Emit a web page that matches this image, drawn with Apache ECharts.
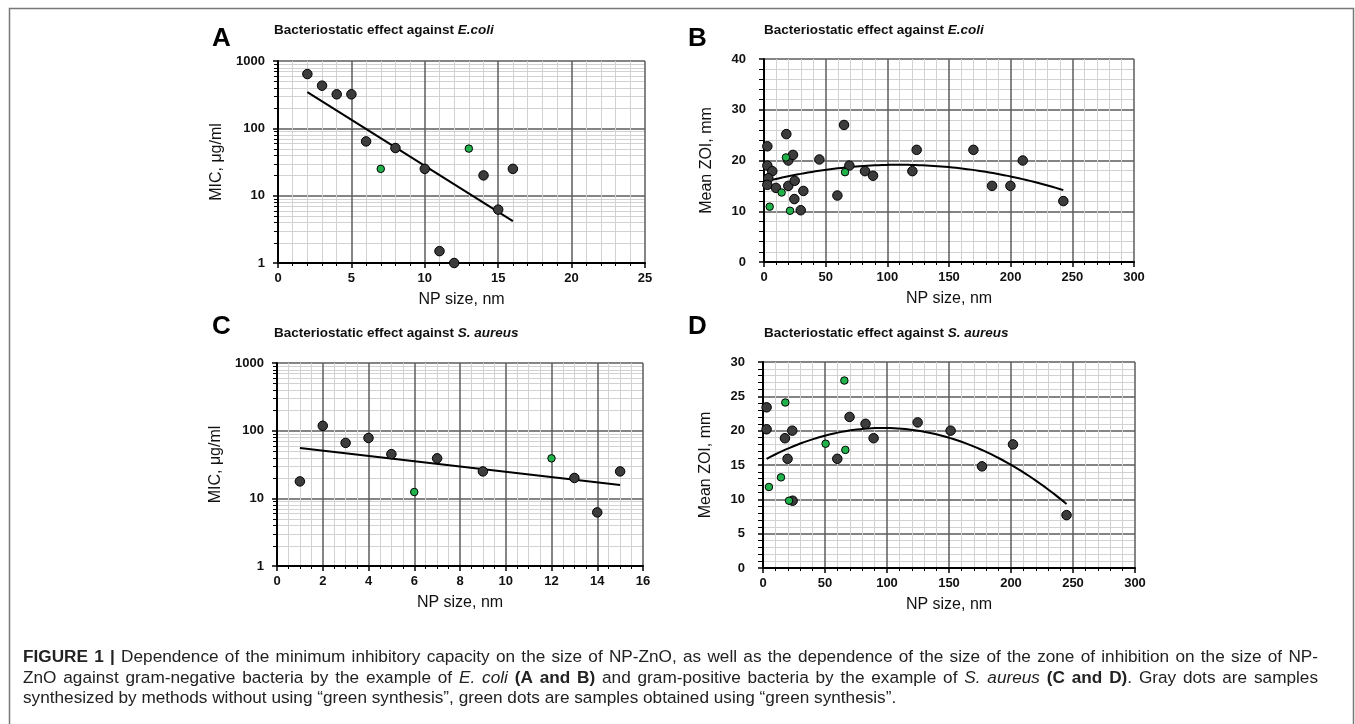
<!DOCTYPE html>
<html><head><meta charset="utf-8">
<script src="https://cdn.jsdelivr.net/npm/echarts@6/dist/echarts.min.js"></script>
<style>html,body{margin:0;padding:0;background:#fff}#c{width:1355px;height:724px}</style>
</head><body><div id="c"></div>
<script>
// ---------- DATA ----------
// Panel A: MIC vs NP size, E. coli  [size nm, MIC ug/ml]
const aGray  = [[2,640],[3,430],[4,320],[5,320],[6,64],[8,51],[10,25],[11,1.5],[12,1],[14,20],[15,6.2],[16,25]];
const aGreen = [[7,25],[13,50]];
// Panel B: mean ZOI vs NP size, E. coli  [size nm, ZOI mm]
const bGray  = [[2.7,22.8],[18.1,25.2],[64.9,27.0],[19.7,20.0],[23.5,21.1],[44.9,20.2],[2.7,19.0],[6.7,17.9],
                [3.5,16.5],[2.7,15.2],[9.7,14.6],[19.7,15.0],[24.9,16.0],[31.9,14.0],[24.6,12.4],[29.8,10.2],
                [59.5,13.1],[69.2,19.0],[81.9,17.9],[88.4,17.0],[120.3,17.9],[123.8,22.1],[169.8,22.1],
                [184.9,15.0],[199.8,15.0],[209.8,20.0],[242.7,12.0]];
const bGreen = [[17.8,20.6],[14.3,13.7],[4.6,10.9],[21.1,10.1],[65.7,17.7]];
// Panel C: MIC vs NP size, S. aureus
const cGray  = [[1,17.8],[2,118],[3,66],[4,78],[5,45],[7,39],[9,25],[13,20],[14,6.2],[15,25]];
const cGreen = [[6,12.4],[12,39]];
// Panel D: mean ZOI vs NP size, S. aureus
const dGray  = [[2.9,23.4],[2.9,20.2],[23.6,20.0],[17.7,18.9],[69.8,22.0],[82.7,21.0],[89.2,18.9],[59.9,15.9],
                [19.8,15.9],[23.9,9.8],[124.7,21.2],[151.3,20.0],[176.6,14.8],[201.6,18.0],[244.8,7.7]];
const dGreen = [[65.6,27.3],[18.0,24.1],[50.5,18.1],[66.4,17.2],[14.5,13.2],[4.8,11.8],[21.0,9.8]];

// Text
const panelLetters = ['A','B','C','D'];
const panelTitles = [['Bacteriostatic effect against ','E.coli'],['Bacteriostatic effect against ','E.coli'],
                     ['Bacteriostatic effect against ','S. aureus'],['Bacteriostatic effect against ','S. aureus']];
const xName = 'NP size, nm';
const yNames = ['MIC, μg/ml','Mean ZOI, mm','MIC, μg/ml','Mean ZOI, mm'];
const logMinorMultipliers = [2,3,4,5,6,7,8,9];
const logDecades = [1,10,100];
// caption: [style, text]  r = regular, b = bold, i = italic
const captionLine1 = [['b','FIGURE 1 |'],['r','Dependence of the minimum inhibitory capacity on the size of NP-ZnO, as well as the dependence of the size of the zone of inhibition on the size of NP-']];
const captionLine2 = [['r','ZnO against gram-negative bacteria by the example of'],['i','E. coli'],['b','(A and B)'],
                      ['r','and gram-positive bacteria by the example of'],['i','S. aureus'],['b','(C and D)'],['r','. Gray dots are samples']];
const captionLine3 = [['r','synthesized by methods without using “green synthesis”, green dots are samples obtained using “green synthesis”.']];

// ---------- helpers ----------
const font = "'Liberation Sans', Arial, Helvetica, sans-serif";
const all = (a,b) => a.concat(b);

function logLinearFit(pts){ // least squares: log10(y) = a + b x
  const n = pts.length;
  let sx=0, sy=0, sxx=0, sxy=0;
  pts.forEach(([x,y])=>{const ly=Math.log10(y); sx+=x; sy+=ly; sxx+=x*x; sxy+=x*ly;});
  const b = (n*sxy - sx*sy)/(n*sxx - sx*sx);
  const a = (sy - b*sx)/n;
  const xs = pts.map(p=>p[0]);
  const x0 = Math.min(...xs), x1 = Math.max(...xs);
  return [[x0, Math.pow(10, a+b*x0)], [x1, Math.pow(10, a+b*x1)]];
}
function quadFit(pts){ // least squares: y = c0 + c1 x + c2 x^2
  const S = [0,0,0,0,0], T=[0,0,0];
  pts.forEach(([x,y])=>{ let p=1; for(let k=0;k<5;k++){S[k]+=p; if(k<3) T[k]+=p*y; p*=x;} });
  const M = [[S[0],S[1],S[2],T[0]],[S[1],S[2],S[3],T[1]],[S[2],S[3],S[4],T[2]]];
  for(let i=0;i<3;i++){
    for(let j=i+1;j<3;j++){ const f=M[j][i]/M[i][i]; for(let k=i;k<4;k++) M[j][k]-=f*M[i][k]; }
  }
  const c=[0,0,0];
  for(let i=2;i>=0;i--){ let s=M[i][3]; for(let k=i+1;k<3;k++) s-=M[i][k]*c[k]; c[i]=s/M[i][i]; }
  const xs = pts.map(p=>p[0]);
  const x0 = Math.min(...xs), x1 = Math.max(...xs);
  const out=[]; const N=80;
  for(let i=0;i<=N;i++){ const x=x0+(x1-x0)*i/N; out.push([x, c[0]+c[1]*x+c[2]*x*x]); }
  return out;
}

const grids = [
  {left:278, top:61,  width:367, height:202},
  {left:764, top:59,  width:370, height:203},
  {left:277, top:363, width:366, height:203},
  {left:763, top:362, width:372, height:206}
];

const majorColor = '#5c5c5c', minorColor = '#d2d2d2';

function xAx(gi, max, interval, minorSplit){
  return {type:'value', gridIndex:gi, min:0, max:max, interval:interval,
    name:xName, nameLocation:'middle', nameGap:29,
    nameTextStyle:{fontSize:16, fontFamily:font, color:'#111'},
    axisLine:{onZero:false, lineStyle:{color:'#000', width:2}},
    axisTick:{show:true, inside:false, length:5, lineStyle:{color:'#000', width:1.5}},
    minorTick:{show:true, splitNumber:minorSplit, length:3, lineStyle:{color:'#000', width:1}},
    axisLabel:{margin:9, fontSize:13, fontWeight:'bold', color:'#111', fontFamily:font},
    splitLine:{show:true, lineStyle:{color:majorColor, width:1.5}},
    minorSplitLine:{show:true, lineStyle:{color:minorColor, width:1}}
  };
}
function yLin(gi, max, interval, minorSplit, name){
  return {type:'value', gridIndex:gi, min:0, max:max, interval:interval,
    name:name, nameLocation:'middle', nameGap:49,
    nameTextStyle:{fontSize:16, fontFamily:font, color:'#111'},
    axisLine:{onZero:false, lineStyle:{color:'#000', width:2}},
    axisTick:{show:true, inside:false, length:5, lineStyle:{color:'#000', width:1.5}},
    minorTick:{show:true, splitNumber:minorSplit, length:5, lineStyle:{color:'#000', width:1}},
    axisLabel:{margin:18, fontSize:13, fontWeight:'bold', color:'#111', fontFamily:font},
    splitLine:{show:true, lineStyle:{color:majorColor, width:1.5}},
    minorSplitLine:{show:true, lineStyle:{color:minorColor, width:1}}
  };
}
function yLog(gi, name){
  return {type:'log', logBase:10, gridIndex:gi, min:1, max:1000,
    name:name, nameLocation:'middle', nameGap:53,
    nameTextStyle:{fontSize:16, fontFamily:font, color:'#111'},
    axisLine:{onZero:false, lineStyle:{color:'#000', width:2}},
    axisTick:{show:true, inside:false, length:5, lineStyle:{color:'#000', width:1.5}},
    axisLabel:{margin:13, fontSize:13, fontWeight:'bold', color:'#111', fontFamily:font,
               formatter:(v)=>String(Math.round(v))},
    splitLine:{show:true, lineStyle:{color:majorColor, width:1.5}},
    minorTick:{show:false}, minorSplitLine:{show:false}
  };
}

const logMinorValues = [];
logDecades.forEach(d=>logMinorMultipliers.forEach(m=>logMinorValues.push(m*d)));

function logMinorSeries(i){
  return {type:'custom', xAxisIndex:i, yAxisIndex:i, z:-1, silent:true, clip:false,
    data: logMinorValues.map(v=>[0,v]),
    renderItem:(params, api)=>{
      const cs = params.coordSys;
      const py = Math.round(api.coord([api.value(0), api.value(1)])[1]) + 0.5;
      return {type:'group', children:[
        {type:'line', shape:{x1:cs.x, y1:py, x2:cs.x+cs.width, y2:py}, style:{stroke:minorColor, lineWidth:1}},
        {type:'line', shape:{x1:cs.x-4, y1:py, x2:cs.x, y2:py}, style:{stroke:'#000', lineWidth:1}}
      ]};
    }
  };
}

function scatter(i, data, green){
  return {type:'scatter', xAxisIndex:i, yAxisIndex:i, data:data, z:4,
    symbol:'circle', symbolSize: green?7.5:9.5,
    itemStyle:{color: green?'#21b24b':'#3c3c3c', borderColor:'#000', borderWidth:1, opacity:1}};
}
function trend(i, data){
  return {type:'line', xAxisIndex:i, yAxisIndex:i, data:data, z:3, showSymbol:false, smooth:false,
    lineStyle:{color:'#000', width:2}};
}

// ---------- graphic texts ----------
const letterPos = [[212,38.5],[688,38.5],[212,327],[688,327]];
const titlePos  = [[274,30],[764,30],[274,333],[764,333]];
const graphic = [
  {type:'rect', silent:true, shape:{x:9.5, y:8.5, width:1344, height:740},
   style:{fill:'none', stroke:'#777', lineWidth:1.5}}
];
panelLetters.forEach((L,i)=>{
  graphic.push({type:'text', silent:true, x:letterPos[i][0], y:letterPos[i][1],
    style:{text:L, fontSize:26, fontWeight:'bold', fontFamily:font, fill:'#000', align:'left', verticalAlign:'middle'}});
});
panelTitles.forEach((t,i)=>{
  graphic.push({type:'text', silent:true, x:titlePos[i][0], y:titlePos[i][1],
    style:{text:'{n|'+t[0]+'}{it|'+t[1]+'}', align:'left', verticalAlign:'middle',
      rich:{n:{fontSize:13.5, fontWeight:'bold', fontFamily:font, fill:'#111'},
            it:{fontSize:13.5, fontWeight:'bold', fontStyle:'italic', fontFamily:font, fill:'#111'}}}});
});

// caption: lines built word by word (first two justified, last one natural)
const capSize = 17.2, capLeft = 23, capRight = 1318;
const mctx = document.createElement('canvas').getContext('2d');
function capStyle(st){
  return {fontSize:capSize, fontFamily:font, fontWeight: st==='b'?'bold':'normal',
          fontStyle: st==='i'?'italic':'normal', fill:'#222'};
}
function capFont(st){ const s=capStyle(st); return s.fontStyle+' '+s.fontWeight+' '+capSize+'px '+font; }
function layoutCaption(segs, y, justify){
  const words=[];
  segs.forEach(([st,txt])=>txt.split(' ').filter(w=>w.length).forEach(w=>words.push({st:st,w:w})));
  for(let k=words.length-1;k>0;k--){ if(/^[.,]/.test(words[k].w)){ words[k].glue=true; } }
  words.forEach(o=>{ mctx.font=capFont(o.st); o.wd=mctx.measureText(o.w).width; });
  mctx.font=capFont('r'); const sp=mctx.measureText(' ').width;
  const nGaps = words.filter((o,k)=>k>0 && !o.glue).length;
  const sum = words.reduce((s,o)=>s+o.wd,0);
  const gap = justify ? Math.max(sp, (capRight-capLeft-sum)/nGaps) : sp;
  let x = capLeft;
  words.forEach((o,k)=>{
    if(k>0 && !o.glue) x += gap;
    graphic.push({type:'text', silent:true, x:x, y:y,
      style:Object.assign({text:o.w, align:'left', verticalAlign:'middle'}, capStyle(o.st))});
    x += o.wd;
  });
}
layoutCaption(captionLine1, 657, true);
layoutCaption(captionLine2, 678, true);
layoutCaption(captionLine3, 698, false);

// ---------- chart ----------
const chart = echarts.init(document.getElementById('c'), null, {renderer:'canvas'});
chart.setOption({
  animation:false,
  backgroundColor:'#fff',
  grid: grids.map(g=>Object.assign({outerBoundsMode:'none', containLabel:false}, g)),
  xAxis:[ xAx(0,25,5,5), xAx(1,300,50,5), xAx(2,16,2,4), xAx(3,300,50,5) ],
  yAxis:[ yLog(0,yNames[0]), yLin(1,40,10,5,yNames[1]), yLog(2,yNames[2]), yLin(3,30,5,5,yNames[3]) ],
  series:[
    logMinorSeries(0), logMinorSeries(2),
    trend(0, logLinearFit(all(aGray,aGreen))),
    trend(1, quadFit(all(bGray,bGreen))),
    trend(2, logLinearFit(all(cGray,cGreen))),
    trend(3, quadFit(all(dGray,dGreen))),
    scatter(0,aGray,false), scatter(0,aGreen,true),
    scatter(1,bGray,false), scatter(1,bGreen,true),
    scatter(2,cGray,false), scatter(2,cGreen,true),
    scatter(3,dGray,false), scatter(3,dGreen,true)
  ],
  graphic: graphic
});
</script></body></html>
